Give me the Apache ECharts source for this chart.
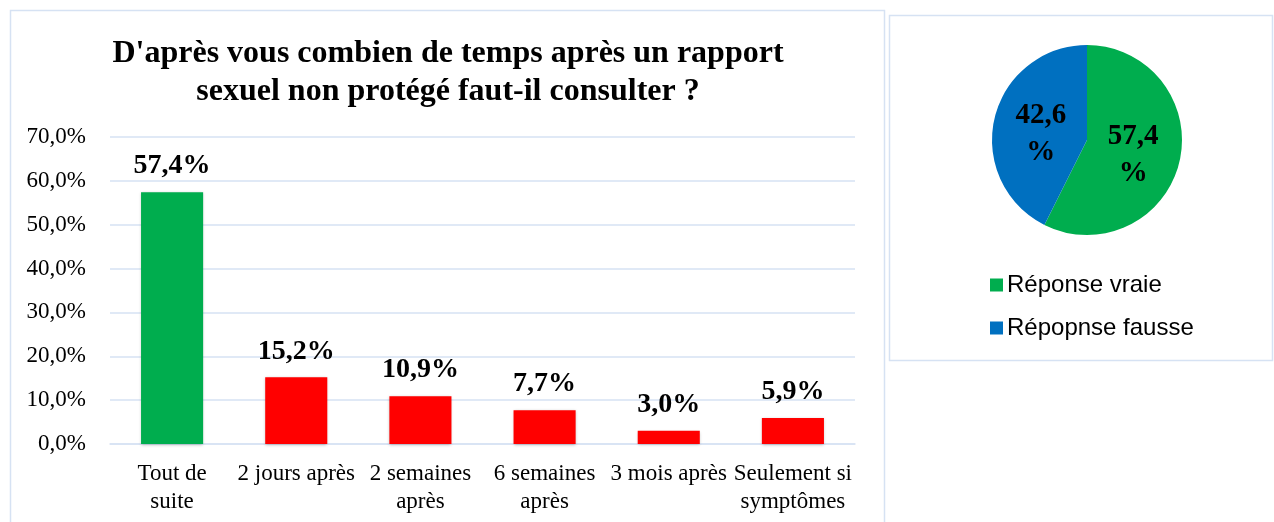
<!DOCTYPE html>
<html><head><meta charset="utf-8">
<script src="https://cdn.jsdelivr.net/npm/echarts@6/dist/echarts.min.js"></script>
<style>html,body{margin:0;padding:0;background:#fff}#c{width:1274px;height:522px}</style>
</head><body><div id="c"></div>
<script>
const categories = ['Tout de\nsuite', '2 jours après', '2 semaines\naprès', '6 semaines\naprès', '3 mois après', 'Seulement si\nsymptômes'];
const values = [57.4, 15.2, 10.9, 7.7, 3.0, 5.9];
const barColors = ['#00AD4E', '#FF0000', '#FF0000', '#FF0000', '#FF0000', '#FF0000'];
const pieNames = ['Réponse vraie', 'Répopnse fausse'];
const pieValues = [57.4, 42.6];
const pieColors = ['#00AD4E', '#0070C0'];
const fmt = v => v.toFixed(1).replace('.', ',');

const chart = echarts.init(document.getElementById('c'));
chart.setOption({
  animation: false,
  title: {
    text: "D'après vous combien de temps après un rapport\nsexuel non protégé faut-il consulter ?",
    left: 443, top: 30, textAlign: 'center',
    textStyle: {fontFamily: 'Liberation Serif', fontWeight: 'bold', fontSize: 32, lineHeight: 38, color: '#000'}
  },
  graphic: [
    {type: 'rect', shape: {x: 10.5, y: 10.5, width: 874, height: 520}, style: {fill: 'none', stroke: '#D6E2F3', lineWidth: 1.5}},
    {type: 'rect', shape: {x: 889.5, y: 15.5, width: 383, height: 345}, style: {fill: 'none', stroke: '#D6E2F3', lineWidth: 1.5}}
  ],
  legend: {
    data: pieNames, orient: 'vertical', left: 990, top: 273, padding: 0,
    itemWidth: 13, itemHeight: 13, itemGap: 19, icon: 'rect',
    textStyle: {fontFamily: 'Liberation Sans', fontSize: 24, color: '#000', padding: [0,0,0,-1]}
  },
  grid: {left: 110, right: 419, top: 137, bottom: 78},
  xAxis: {
    type: 'category', data: categories,
    axisLine: {lineStyle: {color: '#D6E2F3', width: 1.5}}, axisTick: {show: false},
    axisLabel: {fontFamily: 'Liberation Serif', fontSize: 23, color: '#000', lineHeight: 28, margin: 16, interval: 0}
  },
  yAxis: {
    type: 'value', min: 0, max: 70, interval: 10,
    axisLabel: {fontFamily: 'Liberation Serif', fontSize: 23, color: '#000', margin: 24, formatter: v => fmt(v) + '%'},
    splitLine: {lineStyle: {color: '#D6E2F3', width: 1.5}}
  },
  series: [
    {
      type: 'bar', barWidth: '50%',
      data: values.map((v, i) => ({value: v, itemStyle: {color: barColors[i], shadowBlur: 3, shadowColor: 'rgba(0,0,0,0.25)', shadowOffsetY: 1}})),
      label: {show: true, position: 'top', distance: 12, formatter: p => fmt(p.value) + '%',
        fontFamily: 'Liberation Serif', fontWeight: 'bold', fontSize: 28, color: '#000'}
    },
    {
      type: 'pie', center: [1087, 140], radius: 95, startAngle: 90,
      data: pieNames.map((n, i) => ({name: n, value: pieValues[i], itemStyle: {color: pieColors[i]},
        label: {offset: i === 0 ? [-3, 3] : [3, 6]}})),
      label: {show: true, position: 'inside', formatter: p => fmt(p.value) + '\n%',
        fontFamily: 'Liberation Serif', fontWeight: 'bold', fontSize: 29, lineHeight: 37, color: '#000'},
      labelLine: {show: false}
    }
  ]
});
</script></body></html>
